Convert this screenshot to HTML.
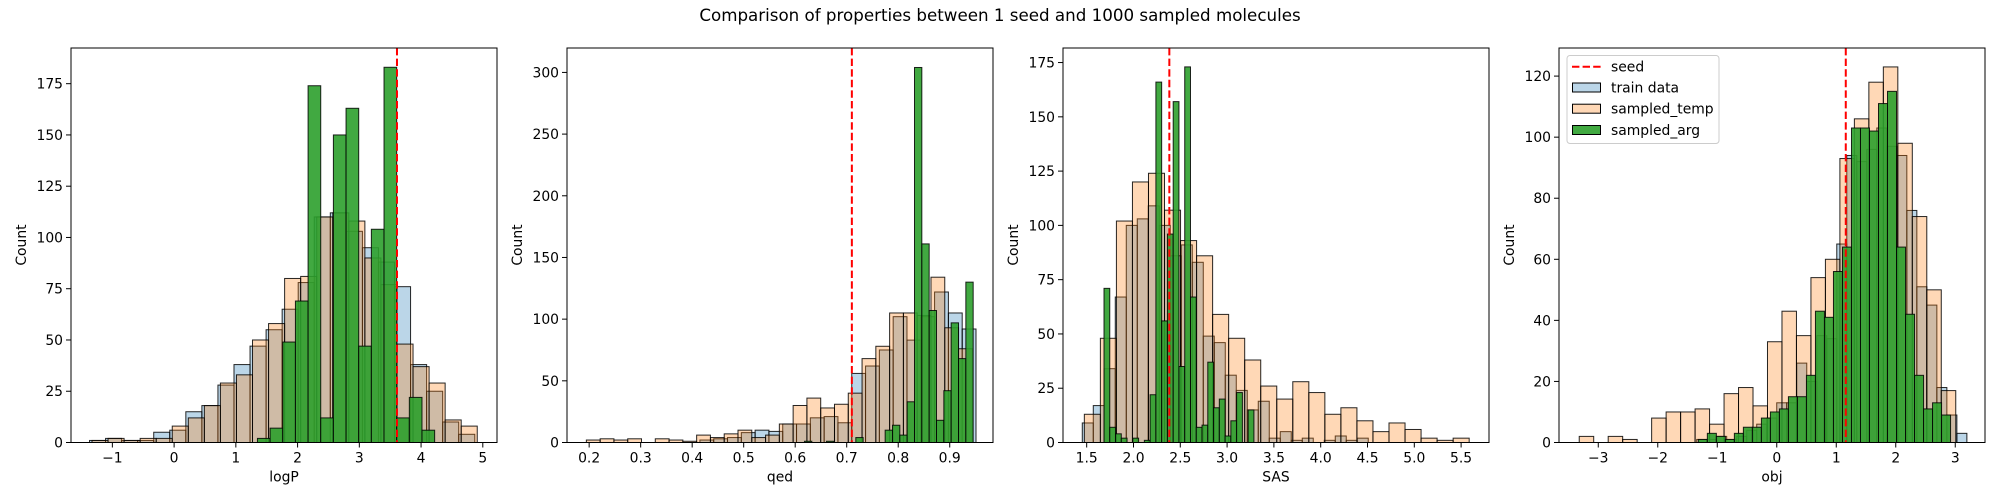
<!DOCTYPE html>
<html><head><meta charset="utf-8"><style>
html,body{margin:0;padding:0;background:#fff;}
svg{display:block;font-family:"DejaVu Sans","Liberation Sans",sans-serif;}
</style></head><body>
<svg id="fig" width="2000" height="500" viewBox="0 0 2000 500">
<text x="1000" y="21" text-anchor="middle" font-size="16.7">Comparison of properties between 1 seed and 1000 sampled molecules</text>
</svg>
<script>
// ---- logP panel data ----
const logpTrainStart = -1.37, logpTrainWidth = 0.26;
const logpTrain = [1,2,1,1,5,6,15,18,28,38,47,55,65,78,110,112,103,95,88,76,38,25,10,4];
const logpTempStart = -1.33, logpTempWidth = 0.26;
const logpTemp = [1,2,1,2,2,8,12,18,29,33,50,58,80,81,110,112,108,90,77,48,37,29,11,8];
const logpArgStart = 1.35, logpArgWidth = 0.205;
const logpArg = [2,7,49,69,174,12,150,163,47,104,183,12,22,6];
const logpSeed = 3.61;
const logpXTicks = [-1,0,1,2,3,4,5];
const logpYTicks = [0,25,50,75,100,125,150,175];

// ---- qed panel data ----
const qedTrainStart = 0.415, qedTrainWidth = 0.0268;
const qedTrain = [2,3,4,8,10,9,15,15,20,21,16,56,62,75,102,83,102,122,105,92];
const qedTempStart = 0.1946, qedTempWidth = 0.02676;
const qedTemp = [2,3,2,3,0,3,2,1,6,4,7,10,4,6,15,30,36,28,31,40,68,78,105,105,103,134,93,76];
const qedArgStart = 0.618, qedArgWidth = 0.01424;
const qedArg = [1,0,0,1,0,0,0,4,0,0,0,10,14,6,33,304,161,107,18,42,97,68,130];
const qedSeed = 0.71;
const qedXTicks = [0.2,0.3,0.4,0.5,0.6,0.7,0.8,0.9];
const qedYTicks = [0,50,100,150,200,250,300];

// ---- SAS panel data ----
const sasTrainStart = 1.453, sasTrainWidth = 0.1175;
const sasTrain = [9,17,34,67,100,103,109,100,86,91,83,49,46,31,24,15,19,2,5,1,2,0,1,3,1,2];
const sasTempStart = 1.475, sasTempWidth = 0.1713;
const sasTemp = [13,48,102,120,124,107,93,86,59,48,38,26,20,28,23,13,16,10,5,9,6,2,1,2];
const sasArgStart = 1.685, sasArgWidth = 0.0616;
const sasArg = [71,7,4,2,0,2,0,1,22,166,56,96,157,35,173,67,7,8,37,16,20,3,10,23,0,15];
const sasSeed = 2.383;
const sasXTicks = [1.5,2.0,2.5,3.0,3.5,4.0,4.5,5.0,5.5];
const sasYTicks = [0,25,50,75,100,125,150,175];

// ---- obj panel data ----
const objTrainStart = -1.346, objTrainWidth = 0.1682;
const objTrain = [1,1,2,1,2,4,6,8,13,13,26,20,35,34,65,94,92,96,103,97,94,76,51,45,18,9,3];
const objTempStart = -3.32, objTempWidth = 0.2434;
const objTemp = [2,0,2,1,0,8,10,10,11,6,16,18,12,33,43,35,54,60,93,106,118,123,98,74,50,17];
const objArgStart = -1.318, objArgWidth = 0.1514;
const objArg = [1,3,2,1,3,5,5,8,10,11,15,15,22,43,41,56,64,103,103,102,111,115,64,42,22,11,13,9];
const objSeed = 1.16;
const objXTicks = [-3,-2,-1,0,1,2,3];
const objYTicks = [0,20,40,60,80,100,120];

const NS = "http://www.w3.org/2000/svg";
const svg = document.getElementById('fig');
function mk(tag, attrs, parent){
  const e = document.createElementNS(NS, tag);
  for (const k in attrs) e.setAttribute(k, attrs[k]);
  (parent||svg).appendChild(e);
  return e;
}
const TOP = 48, BOT = 442.5;

function panel(key, left, right, xmin, xmax, ymax, series, seed, xticks, yticks, xlabel, fmt){
  const g = mk('g', {});
  
  
  const sx = v => left + (v - xmin) / (xmax - xmin) * (right - left);
  const sy = v => BOT - v / ymax * (BOT - TOP);
  const styles = [
    {fill:'#1f77b4', op:0.3, name:'train-data'},
    {fill:'#ff7f0e', op:0.3, name:'sampled-temp'},
    {fill:'#2ca02c', op:0.9, name:'sampled-arg'}];
  series.forEach((s, si) => {
    const st = styles[si];
    const sg = mk('g', {}, g);
    
    
    s.counts.forEach((c, i) => {
      if (c <= 0) return;
      const x0 = sx(s.start + i * s.width), x1 = sx(s.start + (i + 1) * s.width);
      const r = mk('rect', {x:x0, y:sy(c), width:x1 - x0, height:sy(0) - sy(c),
        fill:st.fill, 'fill-opacity':st.op, stroke:'#000', 'stroke-opacity':0.85, 'stroke-width':1}, sg);
      
      
    });
  });
  const sl = mk('line', {x1:sx(seed), x2:sx(seed), y1:TOP, y2:BOT, stroke:'#ff0000', 'stroke-width':2, 'stroke-dasharray':'7.4,3.2'}, g);
  
  
  const fr = mk('rect', {x:left, y:TOP, width:right - left, height:BOT - TOP, fill:'none', stroke:'#000', 'stroke-width':1}, g);
  
  
  xticks.forEach(t => {
    const x = sx(t);
    mk('line', {x1:x, x2:x, y1:BOT, y2:BOT + 5, stroke:'#000', 'stroke-width':1}, g);
    const tx = mk('text', {x:x, y:BOT + 20, 'text-anchor':'middle', 'font-size':13.9}, g);
    tx.textContent = fmt(t);
    
    
  });
  yticks.forEach(t => {
    const y = sy(t);
    mk('line', {x1:left - 5, x2:left, y1:y, y2:y, stroke:'#000', 'stroke-width':1}, g);
    const tx = mk('text', {x:left - 8, y:y + 5, 'text-anchor':'end', 'font-size':13.9}, g);
    tx.textContent = String(t);
    
    
  });
  const xl = mk('text', {x:(left + right) / 2, y:BOT + 39, 'text-anchor':'middle', 'font-size':13.9}, g);
  xl.textContent = xlabel;
  
  
  const yx = left - 45;
  const yl = mk('text', {x:yx, y:245, 'text-anchor':'middle', 'font-size':13.9, transform:'rotate(-90 ' + yx + ' 245)'}, g);
  yl.textContent = 'Count';
  
  
}
const fmtMinus = t => (t < 0 ? '\u2212' + Math.abs(t) : String(t));
panel('logp', 71, 497, -1.67, 5.23, 192.4,
  [{start:logpTrainStart,width:logpTrainWidth,counts:logpTrain},{start:logpTempStart,width:logpTempWidth,counts:logpTemp},{start:logpArgStart,width:logpArgWidth,counts:logpArg}],
  logpSeed, logpXTicks, logpYTicks, 'logP', fmtMinus);
panel('qed', 567, 993, 0.157, 0.984, 319.8,
  [{start:qedTrainStart,width:qedTrainWidth,counts:qedTrain},{start:qedTempStart,width:qedTempWidth,counts:qedTemp},{start:qedArgStart,width:qedArgWidth,counts:qedArg}],
  qedSeed, qedXTicks, qedYTicks, 'qed', t => t.toFixed(1));
panel('sas', 1063, 1489, 1.247, 5.798, 181.7,
  [{start:sasTrainStart,width:sasTrainWidth,counts:sasTrain},{start:sasTempStart,width:sasTempWidth,counts:sasTemp},{start:sasArgStart,width:sasArgWidth,counts:sasArg}],
  sasSeed, sasXTicks, sasYTicks, 'SAS', t => t.toFixed(1));
panel('obj', 1559, 1985, -3.66, 3.50, 129.2,
  [{start:objTrainStart,width:objTrainWidth,counts:objTrain},{start:objTempStart,width:objTempWidth,counts:objTemp},{start:objArgStart,width:objArgWidth,counts:objArg}],
  objSeed, objXTicks, objYTicks, 'obj', fmtMinus);

// legend
const lg = mk('g', {});


mk('rect', {x:1567, y:55.5, width:152, height:88, rx:3, fill:'#fff', 'fill-opacity':0.8, stroke:'#ccc', 'stroke-width':1}, lg);
const legNames = ['seed','train data','sampled_temp','sampled_arg'];
const legY = [66.7, 87.5, 108.7, 130];
const legFill = [null, ['#1f77b4',0.3], ['#ff7f0e',0.3], ['#2ca02c',0.9]];
legNames.forEach((n, i) => {
  const y = legY[i];
  if (i === 0) {
    mk('line', {x1:1572, x2:1601, y1:y, y2:y, stroke:'#ff0000', 'stroke-width':2, 'stroke-dasharray':'7.4,3.2'}, lg);
  } else {
    mk('rect', {x:1572.5, y:y - 4.5, width:28, height:9, fill:legFill[i][0], 'fill-opacity':legFill[i][1], stroke:'#000', 'stroke-width':1}, lg);
  }
  const t = mk('text', {x:1611, y:y + 5, 'font-size':13.9}, lg);
  t.textContent = n;
  
  
});
</script>
</body></html>
